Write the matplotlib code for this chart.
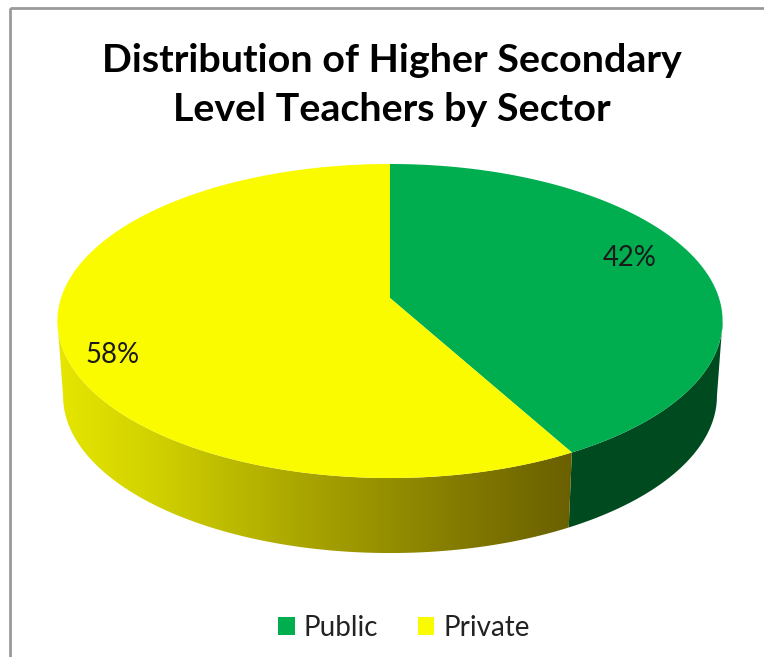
import numpy as np
import matplotlib
matplotlib.use('Agg')
import matplotlib.pyplot as plt
from matplotlib.colors import LinearSegmentedColormap
from matplotlib.patches import Patch, Polygon, Rectangle

categories = ['Public', 'Private']
values = [42, 58]
value_labels = ['42%', '58%']
title = 'Distribution of Higher Secondary\nLevel Teachers by Sector'

top_colors = ['#00ae50', '#fbfb00']
side_dark_green = '#004a20'
yellow_side_stops = [(58, '#e6e600'), (150, '#d2d200'), (300, '#aaa600'),
                     (464, '#827a00'), (572, '#6a6000')]

plt.rcParams['font.family'] = ['Lato', 'DejaVu Sans']

fig = plt.figure(figsize=(7.64, 6.57), dpi=100)
ax = fig.add_axes([0, 0, 1, 1])
ax.set_xlim(0, 764)
ax.set_ylim(657, 0)
ax.axis('off')

# chart frame, runs off the right and bottom of the crop
ax.add_patch(Rectangle((10, 8), 800, 700, fill=False, ec='#9a9a9a', lw=2))

TILT = 0.1465


def project(theta, drop=0.0, shrink=1.0):
    # perspective view of the unit circle, theta clockwise from 12 o'clock
    u, v = np.sin(theta), -np.cos(theta)
    w = 1 - TILT * v
    return 390 + shrink * 329 * u / w, (110 * v + 298) / w + drop


def arc(a0, a1, **kw):
    t = np.linspace(a0, a1, 200)
    return np.column_stack(project(t, **kw))


fracs = np.array(values) / sum(values)
edges = np.concatenate([[0], np.cumsum(fracs)]) * 2 * np.pi

# only the front of the rim is visible, between the two silhouette angles
vis0 = np.arccos(-TILT)
vis1 = 2 * np.pi - vis0

for i in range(len(values)):
    a0, a1 = max(edges[i], vis0), min(edges[i + 1], vis1)
    side = np.vstack([arc(a0, a1), arc(a0, a1, drop=75, shrink=0.983)[::-1]])
    if i == 0:
        ax.add_patch(Polygon(side, fc=side_dark_green, ec='none', zorder=2))
    else:
        xs = [s[0] for s in yellow_side_stops]
        pos = [(x - xs[0]) / (xs[-1] - xs[0]) for x in xs]
        cmap = LinearSegmentedColormap.from_list(
            'side', list(zip(pos, [s[1] for s in yellow_side_stops])))
        clip = Polygon(side, fc='none', ec='none', zorder=2)
        ax.add_patch(clip)
        im = ax.imshow(np.linspace(0, 1, 256)[None, :], cmap=cmap, aspect='auto',
                       extent=(xs[0], xs[-1], 657, 0), zorder=2)
        im.set_clip_path(clip)
ax.set_xlim(0, 764)
ax.set_ylim(657, 0)

for i in range(len(values)):
    top = np.vstack([[project(0.0)[0], 298], arc(edges[i], edges[i + 1])])
    ax.add_patch(Polygon(top, fc=top_colors[i], ec='none', zorder=3))

ax.text(629.5, 258, value_labels[0], ha='center', va='center', fontsize=19.8, color='#1a1a1a', zorder=4)
ax.text(112.5, 355, value_labels[1], ha='center', va='center', fontsize=19.8, color='#1a1a1a', zorder=4)

ax.text(391.5, 85, title, ha='center', va='center', fontsize=28.4, fontweight='bold',
        color='black', linespacing=1.5)

handles = [Patch(fc=c, ec='none') for c in top_colors]
ax.legend(handles, categories, ncol=2, loc='center', bbox_to_anchor=(404 / 764, 1 - 628 / 657),
          frameon=False, fontsize=20, handlelength=0.6, handleheight=0.6,
          handletextpad=0.32, columnspacing=1.42, labelcolor='#222222')

fig.savefig('out.png', dpi=100)
plt.close(fig)
